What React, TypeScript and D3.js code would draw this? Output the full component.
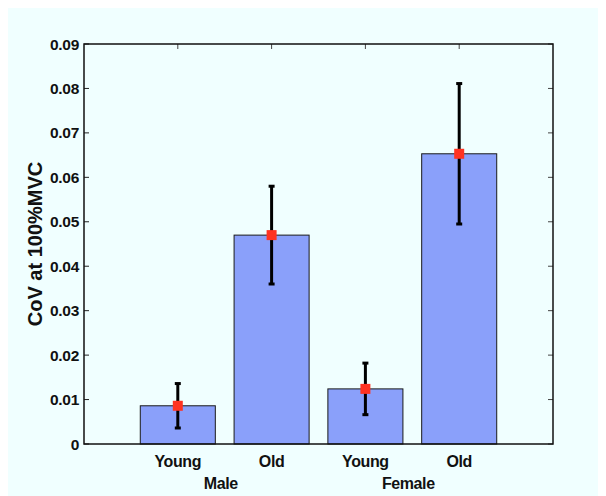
import React from 'react';
import * as d3 from 'd3';

// values
const groups = ['Male', 'Female'];
const ageLabels = ['Young', 'Old', 'Young', 'Old'];
const means = [0.0086, 0.047, 0.0124, 0.0653];
const errs = [0.005, 0.011, 0.0058, 0.0158];
const yTicks = [0, 0.01, 0.02, 0.03, 0.04, 0.05, 0.06, 0.07, 0.08, 0.09];

const W = 600;
const H = 488;
const margin = { top: 36, right: 53, bottom: 52, left: 78 };
const font = '"Liberation Sans", Arial, Helvetica, sans-serif';

export default function App() {
    const x = d3.scaleLinear().domain([0, 5]).range([margin.left, W - margin.right]);
    const y = d3.scaleLinear().domain([0, 0.09]).range([H - margin.bottom, margin.top]);
    const barW = x(0.8) - x(0);
    const left = x(0), right = x(5), top = y(0.09), bottom = y(0);
    const xTicks = means.map((_, i) => i + 1);

    return (
        <svg width={W} height={H} style={{ display: 'block', marginLeft: -2 }} fontFamily={font}>
            <rect x={0} y={0} width={W} height={H} fill="#f0ffff" />

            {/* ticks inward on left/right/top */}
            {yTicks.map(t => (
                <g key={t}>
                    <line x1={left} x2={left + 5} y1={y(t)} y2={y(t)} stroke="#222" strokeWidth={1} />
                    <line x1={right} x2={right - 5} y1={y(t)} y2={y(t)} stroke="#444" strokeWidth={1} />
                    <text x={left - 5} y={y(t)} dy="0.36em" textAnchor="end" fontSize={15.5}
                        fontWeight="bold" fill="#111" letterSpacing={-0.3}>{t === 0 ? '0' : t.toFixed(2)}</text>
                </g>
            ))}
            {xTicks.map(t => (
                <line key={t} x1={x(t)} x2={x(t)} y1={top} y2={top + 5} stroke="#444" strokeWidth={1} />
            ))}

            {/* bars */}
            {means.map((m, i) => (
                <rect key={i} x={x(i + 1) - barW / 2} y={y(m)} width={barW} height={y(0) - y(m)}
                    fill="#8aa0fa" stroke="#1a1a1a" strokeWidth={1} />
            ))}

            {/* error bars */}
            {means.map((m, i) => {
                const cx = x(i + 1);
                return (
                    <g key={i}>
                        <line x1={cx} x2={cx} y1={y(m - errs[i])} y2={y(m + errs[i])} stroke="#000" strokeWidth={3} />
                        <line x1={cx - 3} x2={cx + 3} y1={y(m - errs[i])} y2={y(m - errs[i])} stroke="#000" strokeWidth={3} />
                        <line x1={cx - 3} x2={cx + 3} y1={y(m + errs[i])} y2={y(m + errs[i])} stroke="#000" strokeWidth={3} />
                        <rect x={cx - 5} y={y(m) - 5} width={10} height={10} fill="#ff3322" />
                    </g>
                );
            })}

            {/* axes box */}
            <rect x={left} y={top} width={right - left} height={bottom - top} fill="none" stroke="#111" strokeWidth={1.5} />

            {/* x labels */}
            {ageLabels.map((l, i) => (
                <text key={i} x={x(i + 1)} y={bottom + 23} textAnchor="middle" fontSize={16}
                    fontWeight="bold" fill="#111" letterSpacing={-0.4}>{l}</text>
            ))}
            {groups.map((g, i) => (
                <text key={g} x={x(i * 2 + 1.5)} dx={-4} y={bottom + 45} textAnchor="middle" fontSize={16}
                    fontWeight="bold" fill="#111" letterSpacing={-0.4}>{g}</text>
            ))}

            <text transform={`translate(29,${(top + bottom) / 2}) rotate(-90)`} textAnchor="middle" dy="0.36em"
                fontSize={20} fontWeight="bold" fill="#111">CoV at 100%MVC</text>
        </svg>
    );
}
